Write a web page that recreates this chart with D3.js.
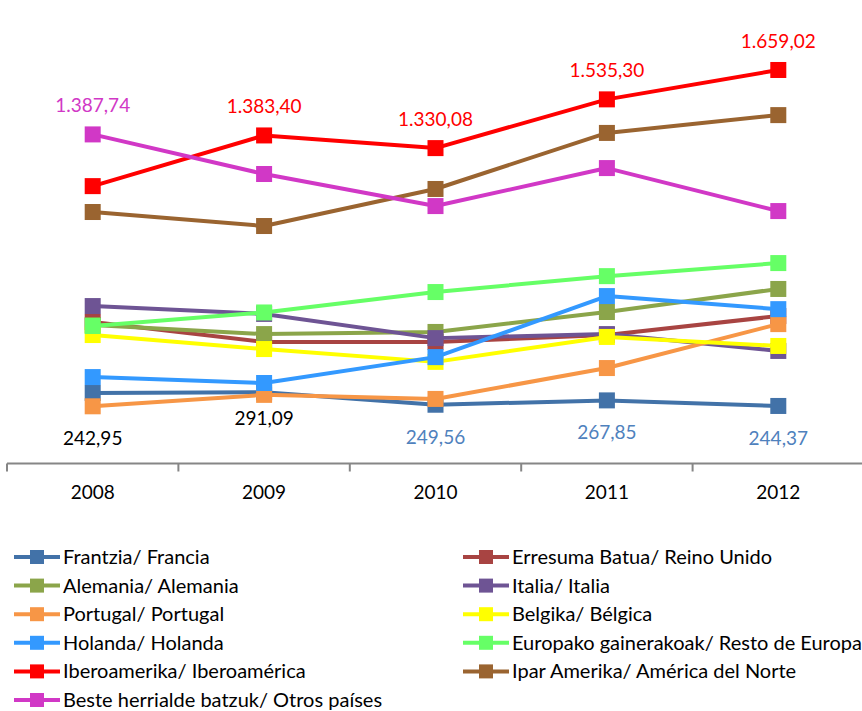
<!DOCTYPE html>
<html>
<head>
<meta charset="utf-8">
<script src="https://cdn.jsdelivr.net/npm/d3@7"></script>
<style>
  html, body { margin: 0; padding: 0; background: #fff; }
  svg { display: block; font-family: Lato, "Noto Sans", sans-serif; }
</style>
</head>
<body>
<svg id="chart" width="862" height="711"></svg>
<script>
const years = ['2008', '2009', '2010', '2011', '2012']

const names = [
  'Frantzia/ Francia', 'Erresuma Batua/ Reino Unido',
  'Alemania/ Alemania', 'Italia/ Italia',
  'Portugal/ Portugal', 'Belgika/ Bélgica',
  'Holanda/ Holanda', 'Europako gainerakoak/ Resto de Europa',
  'Iberoamerika/ Iberoamérica', 'Ipar Amerika/ América del Norte',
  'Beste herrialde batzuk/ Otros países'
]
const colors = ['#4272A8', '#A84442', '#8BA54A', '#6E5494', '#F79646', '#FFFF00',
  '#3399FF', '#66FF66', '#FF0000', '#9A6430', '#D138C6']

const francia = [299, 302, 249.56, 267.85, 244.37]
const reinoUnido = [598, 514, 514, 543, 623]
const alemania = [585, 547, 556, 640, 737]
const italia = [665, 632, 530, 547, 476]
const portugal = [242.95, 291.09, 274, 404, 589]
const belgica = [543, 484, 430, 535, 497]
const holanda = [366, 341, 450, 707, 652]
const restoEuropa = [581, 638, 724, 791, 846]
const iberoamerica = [1170, 1383.40, 1330.08, 1535.30, 1659.02]
const americaNorte = [1061, 1002, 1158, 1394, 1469]
const otros = [1387.74, 1221, 1086, 1246, 1065]

const seriesValues = [francia, reinoUnido, alemania, italia, portugal, belgica,
  holanda, restoEuropa, iberoamerica, americaNorte, otros]

// shown labels: [series index, year index, text, colour, above?]
const labels = [
  [10, 0, '1.387,74', '#D138C6', true],
  [8, 1, '1.383,40', '#FF0000', true],
  [8, 2, '1.330,08', '#FF0000', true],
  [8, 3, '1.535,30', '#FF0000', true],
  [8, 4, '1.659,02', '#FF0000', true],
  [4, 0, '242,95', '#000000', false],
  [4, 1, '291,09', '#000000', false],
  [0, 2, '249,56', '#4F81BD', false],
  [0, 3, '267,85', '#4F81BD', false],
  [0, 4, '244,37', '#4F81BD', false]
]

const svg = d3.select('#chart')

const x = d3.scaleBand().domain(years).range([7, 864])
const y = d3.scaleLinear().domain([0, 1800]).range([464, 36.5])

// x axis
const axis = svg.append('g')
  .attr('transform', 'translate(0, 463.5)')
  .call(d3.axisBottom(x).tickSize(0).tickPadding(22))
axis.select('.domain').attr('stroke', '#868686').attr('stroke-width', 2)
  .attr('d', 'M7,0H862')
axis.selectAll('text').attr('font-size', 19).attr('fill', '#000')
  .attr('font-family', 'Lato, "Noto Sans", sans-serif')
axis.selectAll('.tick line').remove()
axis.selectAll('.tickmark')
  .data(years.concat(['end']))
  .join('line')
  .attr('x1', (d, i) => 7 + i * x.bandwidth())
  .attr('x2', (d, i) => 7 + i * x.bandwidth())
  .attr('y1', 0).attr('y2', 8)
  .attr('stroke', '#868686').attr('stroke-width', 2)

const line = d3.line()
  .x((d, i) => x(years[i]) + x.bandwidth() / 2)
  .y(d => y(d))

const plot = svg.append('g')
seriesValues.forEach((vals, s) => {
  const g = plot.append('g')
  g.append('path')
    .attr('d', line(vals))
    .attr('fill', 'none')
    .attr('stroke', colors[s])
    .attr('stroke-width', 4)
    .attr('stroke-linejoin', 'round')
  g.selectAll('rect')
    .data(vals)
    .join('rect')
    .attr('x', (d, i) => x(years[i]) + x.bandwidth() / 2 - 8)
    .attr('y', d => y(d) - 8)
    .attr('width', 16).attr('height', 16)
    .attr('fill', colors[s])
})

svg.append('g').selectAll('text')
  .data(labels)
  .join('text')
  .attr('x', d => x(years[d[1]]) + x.bandwidth() / 2)
  .attr('y', d => {
    const py = y(seriesValues[d[0]][d[1]])
    if (d[4]) return py - 22
    return py + (d[1] === 1 ? 30 : 39)
  })
  .attr('text-anchor', 'middle')
  .attr('font-size', 19)
  .attr('fill', d => d[3])
  .text(d => d[2])

// legend
const legend = svg.append('g')
names.forEach((name, i) => {
  const col = i % 2
  const row = Math.floor(i / 2)
  const lx = col === 0 ? 14 : 463
  const ly = 557 + row * 28.6
  const g = legend.append('g').attr('transform', `translate(${lx}, ${ly})`)
  g.append('line').attr('x1', 0).attr('x2', 46).attr('y1', 0).attr('y2', 0)
    .attr('stroke', colors[i]).attr('stroke-width', 4)
  g.append('rect').attr('x', 16).attr('y', -7).attr('width', 14).attr('height', 14)
    .attr('fill', colors[i])
  g.append('text').attr('x', 49).attr('y', 0).attr('dy', '0.35em')
    .attr('font-size', 20).attr('fill', '#000').text(name)
})
</script>
</body>
</html>
